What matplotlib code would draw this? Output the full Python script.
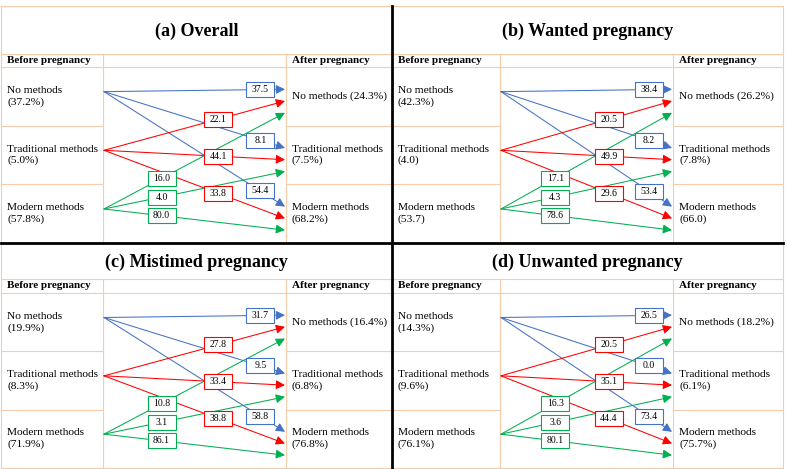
import matplotlib.pyplot as plt
from matplotlib.patches import Rectangle

# panel titles and row labels
titles = ['(a) Overall', '(b) Wanted pregnancy', '(c) Mistimed pregnancy', '(d) Unwanted pregnancy']
before_labels = [
    ['No methods\n(37.2%)', 'Traditional methods\n(5.0%)', 'Modern methods\n(57.8%)'],
    ['No methods\n(42.3%)', 'Traditional methods\n(4.0)', 'Modern methods\n(53.7)'],
    ['No methods\n(19.9%)', 'Traditional methods\n(8.3%)', 'Modern methods\n(71.9%)'],
    ['No methods\n(14.3%)', 'Traditional methods\n(9.6%)', 'Modern methods\n(76.1%)'],
]
after_labels = [
    ['No methods (24.3%)', 'Traditional methods\n(7.5%)', 'Modern methods\n(68.2%)'],
    ['No methods (26.2%)', 'Traditional methods\n(7.8%)', 'Modern methods\n(66.0)'],
    ['No methods (16.4%)', 'Traditional methods\n(6.8%)', 'Modern methods\n(76.8%)'],
    ['No methods (18.2%)', 'Traditional methods\n(6.1%)', 'Modern methods\n(75.7%)'],
]
# rows = method before pregnancy, cols = method after pregnancy (%)
flows_overall = [[37.5, 8.1, 54.4], [22.1, 44.1, 33.8], [16.0, 4.0, 80.0]]
flows_wanted = [[38.4, 8.2, 53.4], [20.5, 49.9, 29.6], [17.1, 4.3, 78.6]]
flows_mistimed = [[31.7, 9.5, 58.8], [27.8, 33.4, 38.8], [10.8, 3.1, 86.1]]
flows_unwanted = [[26.5, 0.0, 73.4], [20.5, 35.1, 44.4], [16.3, 3.6, 80.1]]
all_flows = [flows_overall, flows_wanted, flows_mistimed, flows_unwanted]

colors = ['#4472C4', '#FF0000', '#00B050']
GRID = '#F8CBAD'
BOX_POS = [0.86, 0.63, 0.32]   # where along each line the value box sits

# x0, x1, col1, col2, y0, title bottom, header bottom, y1 (pixels)
panels = [
    (1, 392, 103, 286, 6, 54, 67, 243),
    (392, 783, 500, 673, 6, 54, 67, 243),
    (1, 392, 103, 286, 243, 279, 293, 468),
    (392, 783, 500, 673, 243, 279, 293, 468),
]

plt.rcParams['font.family'] = ['Liberation Serif', 'DejaVu Serif']

fig = plt.figure(figsize=(7.87, 4.69), dpi=100)
ax = fig.add_axes([0, 0, 1, 1])
ax.set_xlim(0, 787)
ax.set_ylim(469, 0)
ax.axis('off')


def draw_panel(p, title, before, after, flows):
    x0, x1, c1, c2, y0, yt, yh, y1 = p
    ax.text((x0 + x1) / 2, (y0 + yt) / 2 + 1, title, ha='center', va='center',
            fontsize=13, fontweight='bold')
    ax.plot([x0, x1], [yt, yt], color=GRID, lw=0.8)
    ax.plot([x0, x1], [yh, yh], color=GRID, lw=0.8)
    for cx in (c1, c2):
        ax.plot([cx, cx], [yt, y1], color=GRID, lw=0.8)
    rh = (y1 - yh) / 3
    for i in (1, 2):
        yy = yh + i * rh
        ax.plot([x0, c1], [yy, yy], color=GRID, lw=0.8)
        ax.plot([c2, x1], [yy, yy], color=GRID, lw=0.8)
    ax.text(x0 + 6, (yt + yh) / 2, 'Before pregnancy', va='center', fontsize=8, fontweight='bold')
    ax.text(c2 + 6, (yt + yh) / 2, 'After pregnancy', va='center', fontsize=8, fontweight='bold')
    for i in range(3):
        top = yh + i * rh
        ax.text(x0 + 6, top + 0.5 * rh, before[i], va='center', fontsize=8.2, linespacing=1.3)
        ax.text(c2 + 6, top + 0.5 * rh, after[i], va='center', fontsize=8.2, linespacing=1.3)

    for i in range(3):
        sy = yh + i * rh + 0.42 * rh
        col = colors[i]
        for j in range(3):
            ty = yh + j * rh + (0.38 + 0.2 * i) * rh
            ax.annotate('', xy=(c2 - 1, ty), xytext=(c1 + 1, sy),
                        arrowprops=dict(arrowstyle='-|>,head_length=0.6,head_width=0.3',
                                        color=col, lw=0.75, mutation_scale=9,
                                        shrinkA=0, shrinkB=0), zorder=2)
            bx = c1 + BOX_POS[i] * (c2 - c1)
            by = sy + (ty - sy) * (bx - c1 - 1) / (c2 - c1 - 2)
            ax.add_patch(Rectangle((bx - 14, by - 7.5), 28, 15, fc='white', ec=col,
                                   lw=0.8, zorder=3))
            ax.text(bx, by, '%.1f' % flows[i][j], ha='center', va='center',
                    fontsize=7, zorder=4)


for k in range(4):
    draw_panel(panels[k], titles[k], before_labels[k], after_labels[k], all_flows[k])

# outer frame and black dividers
ax.plot([1, 783, 783, 1, 1], [6, 6, 468, 468, 6], color=GRID, lw=0.8)
ax.plot([392, 392], [6, 468], color='black', lw=2)
ax.plot([1, 783], [243, 243], color='black', lw=2)

fig.savefig('out.png', dpi=100)
